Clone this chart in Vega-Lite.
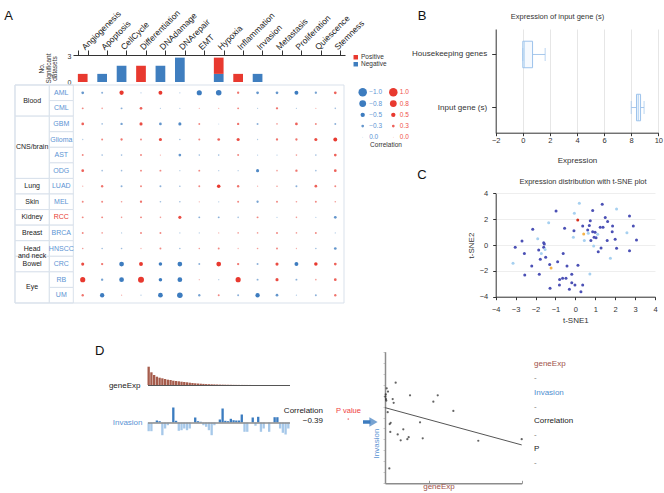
{
"$schema":"https://vega.github.io/schema/vega-lite/v6.json",
"width":664,"height":493,"padding":0,"autosize":"none","background":"white",
"config":{
 "view":{"stroke":null},
 "font":"Liberation Sans",
 "axis":{"grid":false,"labelFont":"Liberation Sans","titleFont":"Liberation Sans","labelColor":"#333333","titleColor":"#333333","domainColor":"#333333","tickColor":"#333333","titleFontWeight":"normal","labelFontSize":7.5,"titleFontSize":8,"labelOverlap":false,"labelBound":false,"labelFlush":false},
 "text":{"font":"Liberation Sans"},
 "legend":{"labelFont":"Liberation Sans","titleFont":"Liberation Sans"}
},
"datasets":{
 "tissues":[
  {"t":"Blood","first":"AML","last":"CML","labelRow":"AML"},
  {"t":"CNS/brain","first":"GBM","last":"ODG","labelRow":"Glioma"},
  {"t":"Lung","first":"LUAD","last":"LUAD"},
  {"t":"Skin","first":"MEL","last":"MEL"},
  {"t":"Kidney","first":"RCC","last":"RCC"},
  {"t":"Breast","first":"BRCA","last":"BRCA"},
  {"t":"Head\nand neck","first":"HNSCC","last":"HNSCC"},
  {"t":"Bowel","first":"CRC","last":"CRC"},
  {"t":"Eye","first":"RB","last":"UM","labelRow":"RB"}
 ],
 "cells":[{"c":"AML"},{"c":"CML"},{"c":"GBM"},{"c":"Glioma"},{"c":"AST"},{"c":"ODG"},{"c":"LUAD"},{"c":"MEL"},{"c":"RCC"},{"c":"BRCA"},{"c":"HNSCC"},{"c":"CRC"},{"c":"RB"},{"c":"UM"}],
 "heat":[
{"c":"AML","f":"Angiogenesis","r":-0.3},{"c":"AML","f":"Apoptosis","r":-0.2},{"c":"AML","f":"CellCycle","r":0.5},{"c":"AML","f":"Differentiation","r":-0.1},{"c":"AML","f":"DNAdamage","r":0.45},{"c":"AML","f":"DNArepair","r":-0.1},{"c":"AML","f":"EMT","r":-0.6},{"c":"AML","f":"Hypoxia","r":-0.65},{"c":"AML","f":"Inflammation","r":0.25},{"c":"AML","f":"Invasion","r":-0.3},{"c":"AML","f":"Metastasis","r":-0.3},{"c":"AML","f":"Proliferation","r":-0.45},{"c":"AML","f":"Quiescence","r":-0.25},{"c":"AML","f":"Stemness","r":0.3},
{"c":"CML","f":"Angiogenesis","r":0.2},{"c":"CML","f":"Apoptosis","r":0.15},{"c":"CML","f":"CellCycle","r":-0.2},{"c":"CML","f":"Differentiation","r":0.3},{"c":"CML","f":"DNAdamage","r":-0.1},{"c":"CML","f":"DNArepair","r":-0.1},{"c":"CML","f":"EMT","r":0.1},{"c":"CML","f":"Hypoxia","r":0.1},{"c":"CML","f":"Inflammation","r":0.2},{"c":"CML","f":"Invasion","r":-0.1},{"c":"CML","f":"Metastasis","r":0.25},{"c":"CML","f":"Proliferation","r":-0.1},{"c":"CML","f":"Quiescence","r":0.1},{"c":"CML","f":"Stemness","r":-0.15},
{"c":"GBM","f":"Angiogenesis","r":0.3},{"c":"GBM","f":"Apoptosis","r":-0.15},{"c":"GBM","f":"CellCycle","r":-0.25},{"c":"GBM","f":"Differentiation","r":0.35},{"c":"GBM","f":"DNAdamage","r":-0.3},{"c":"GBM","f":"DNArepair","r":-0.35},{"c":"GBM","f":"EMT","r":0.2},{"c":"GBM","f":"Hypoxia","r":-0.05},{"c":"GBM","f":"Inflammation","r":0.25},{"c":"GBM","f":"Invasion","r":-0.2},{"c":"GBM","f":"Metastasis","r":0.15},{"c":"GBM","f":"Proliferation","r":0.3},{"c":"GBM","f":"Quiescence","r":0.2},{"c":"GBM","f":"Stemness","r":-0.2},
{"c":"Glioma","f":"Angiogenesis","r":-0.1},{"c":"Glioma","f":"Apoptosis","r":0.2},{"c":"Glioma","f":"CellCycle","r":0.25},{"c":"Glioma","f":"Differentiation","r":0.2},{"c":"Glioma","f":"DNAdamage","r":0.35},{"c":"Glioma","f":"DNArepair","r":-0.15},{"c":"Glioma","f":"EMT","r":0.2},{"c":"Glioma","f":"Hypoxia","r":0.3},{"c":"Glioma","f":"Inflammation","r":0.35},{"c":"Glioma","f":"Invasion","r":-0.1},{"c":"Glioma","f":"Metastasis","r":0.25},{"c":"Glioma","f":"Proliferation","r":0.25},{"c":"Glioma","f":"Quiescence","r":0.35},{"c":"Glioma","f":"Stemness","r":0.45},
{"c":"AST","f":"Angiogenesis","r":0.2},{"c":"AST","f":"Apoptosis","r":-0.15},{"c":"AST","f":"CellCycle","r":-0.15},{"c":"AST","f":"Differentiation","r":0.2},{"c":"AST","f":"DNAdamage","r":0.1},{"c":"AST","f":"DNArepair","r":-0.3},{"c":"AST","f":"EMT","r":-0.15},{"c":"AST","f":"Hypoxia","r":-0.15},{"c":"AST","f":"Inflammation","r":0.2},{"c":"AST","f":"Invasion","r":-0.1},{"c":"AST","f":"Metastasis","r":-0.1},{"c":"AST","f":"Proliferation","r":0.15},{"c":"AST","f":"Quiescence","r":-0.15},{"c":"AST","f":"Stemness","r":0.3},
{"c":"ODG","f":"Angiogenesis","r":0.3},{"c":"ODG","f":"Apoptosis","r":-0.15},{"c":"ODG","f":"CellCycle","r":-0.15},{"c":"ODG","f":"Differentiation","r":0.2},{"c":"ODG","f":"DNAdamage","r":0.2},{"c":"ODG","f":"DNArepair","r":-0.1},{"c":"ODG","f":"EMT","r":0.2},{"c":"ODG","f":"Hypoxia","r":-0.1},{"c":"ODG","f":"Inflammation","r":-0.1},{"c":"ODG","f":"Invasion","r":-0.35},{"c":"ODG","f":"Metastasis","r":0.15},{"c":"ODG","f":"Proliferation","r":0.25},{"c":"ODG","f":"Quiescence","r":-0.15},{"c":"ODG","f":"Stemness","r":0.3},
{"c":"LUAD","f":"Angiogenesis","r":0.1},{"c":"LUAD","f":"Apoptosis","r":0.25},{"c":"LUAD","f":"CellCycle","r":-0.2},{"c":"LUAD","f":"Differentiation","r":0.2},{"c":"LUAD","f":"DNAdamage","r":-0.2},{"c":"LUAD","f":"DNArepair","r":-0.15},{"c":"LUAD","f":"EMT","r":0.2},{"c":"LUAD","f":"Hypoxia","r":0.4},{"c":"LUAD","f":"Inflammation","r":0.25},{"c":"LUAD","f":"Invasion","r":0.1},{"c":"LUAD","f":"Metastasis","r":0.15},{"c":"LUAD","f":"Proliferation","r":-0.2},{"c":"LUAD","f":"Quiescence","r":0.3},{"c":"LUAD","f":"Stemness","r":0.2},
{"c":"MEL","f":"Angiogenesis","r":0.2},{"c":"MEL","f":"Apoptosis","r":0.2},{"c":"MEL","f":"CellCycle","r":0.15},{"c":"MEL","f":"Differentiation","r":0.25},{"c":"MEL","f":"DNAdamage","r":-0.15},{"c":"MEL","f":"DNArepair","r":-0.15},{"c":"MEL","f":"EMT","r":0.1},{"c":"MEL","f":"Hypoxia","r":-0.1},{"c":"MEL","f":"Inflammation","r":0.2},{"c":"MEL","f":"Invasion","r":-0.25},{"c":"MEL","f":"Metastasis","r":0.2},{"c":"MEL","f":"Proliferation","r":0.15},{"c":"MEL","f":"Quiescence","r":0.2},{"c":"MEL","f":"Stemness","r":0.15},
{"c":"RCC","f":"Angiogenesis","r":0.2},{"c":"RCC","f":"Apoptosis","r":0.2},{"c":"RCC","f":"CellCycle","r":0.15},{"c":"RCC","f":"Differentiation","r":0.2},{"c":"RCC","f":"DNAdamage","r":0.15},{"c":"RCC","f":"DNArepair","r":0.35},{"c":"RCC","f":"EMT","r":-0.2},{"c":"RCC","f":"Hypoxia","r":-0.2},{"c":"RCC","f":"Inflammation","r":-0.15},{"c":"RCC","f":"Invasion","r":0.2},{"c":"RCC","f":"Metastasis","r":-0.1},{"c":"RCC","f":"Proliferation","r":0.15},{"c":"RCC","f":"Quiescence","r":-0.1},{"c":"RCC","f":"Stemness","r":-0.3},
{"c":"BRCA","f":"Angiogenesis","r":0.2},{"c":"BRCA","f":"Apoptosis","r":0.15},{"c":"BRCA","f":"CellCycle","r":-0.1},{"c":"BRCA","f":"Differentiation","r":0.2},{"c":"BRCA","f":"DNAdamage","r":0.2},{"c":"BRCA","f":"DNArepair","r":-0.1},{"c":"BRCA","f":"EMT","r":-0.1},{"c":"BRCA","f":"Hypoxia","r":0.1},{"c":"BRCA","f":"Inflammation","r":0.15},{"c":"BRCA","f":"Invasion","r":0.15},{"c":"BRCA","f":"Metastasis","r":0.2},{"c":"BRCA","f":"Proliferation","r":0.15},{"c":"BRCA","f":"Quiescence","r":0.2},{"c":"BRCA","f":"Stemness","r":-0.1},
{"c":"HNSCC","f":"Angiogenesis","r":0.15},{"c":"HNSCC","f":"Apoptosis","r":-0.15},{"c":"HNSCC","f":"CellCycle","r":-0.15},{"c":"HNSCC","f":"Differentiation","r":0.1},{"c":"HNSCC","f":"DNAdamage","r":0.2},{"c":"HNSCC","f":"DNArepair","r":-0.15},{"c":"HNSCC","f":"EMT","r":0.15},{"c":"HNSCC","f":"Hypoxia","r":0.2},{"c":"HNSCC","f":"Inflammation","r":0.1},{"c":"HNSCC","f":"Invasion","r":0.15},{"c":"HNSCC","f":"Metastasis","r":0.2},{"c":"HNSCC","f":"Proliferation","r":0.1},{"c":"HNSCC","f":"Quiescence","r":-0.15},{"c":"HNSCC","f":"Stemness","r":-0.3},
{"c":"CRC","f":"Angiogenesis","r":0.35},{"c":"CRC","f":"Apoptosis","r":0.25},{"c":"CRC","f":"CellCycle","r":-0.55},{"c":"CRC","f":"Differentiation","r":0.45},{"c":"CRC","f":"DNAdamage","r":-0.4},{"c":"CRC","f":"DNArepair","r":-0.55},{"c":"CRC","f":"EMT","r":-0.2},{"c":"CRC","f":"Hypoxia","r":0.55},{"c":"CRC","f":"Inflammation","r":0.25},{"c":"CRC","f":"Invasion","r":-0.2},{"c":"CRC","f":"Metastasis","r":0.35},{"c":"CRC","f":"Proliferation","r":-0.45},{"c":"CRC","f":"Quiescence","r":0.4},{"c":"CRC","f":"Stemness","r":0.3},
{"c":"RB","f":"Angiogenesis","r":0.6},{"c":"RB","f":"Apoptosis","r":-0.25},{"c":"RB","f":"CellCycle","r":-0.55},{"c":"RB","f":"Differentiation","r":0.7},{"c":"RB","f":"DNAdamage","r":-0.4},{"c":"RB","f":"DNArepair","r":-0.55},{"c":"RB","f":"EMT","r":0.1},{"c":"RB","f":"Hypoxia","r":-0.1},{"c":"RB","f":"Inflammation","r":0.6},{"c":"RB","f":"Invasion","r":-0.2},{"c":"RB","f":"Metastasis","r":0.35},{"c":"RB","f":"Proliferation","r":-0.2},{"c":"RB","f":"Quiescence","r":0.15},{"c":"RB","f":"Stemness","r":0.3},
{"c":"UM","f":"Angiogenesis","r":0.25},{"c":"UM","f":"Apoptosis","r":-0.5},{"c":"UM","f":"CellCycle","r":0.1},{"c":"UM","f":"Differentiation","r":-0.1},{"c":"UM","f":"DNAdamage","r":-0.55},{"c":"UM","f":"DNArepair","r":-0.65},{"c":"UM","f":"EMT","r":-0.25},{"c":"UM","f":"Hypoxia","r":0.2},{"c":"UM","f":"Inflammation","r":-0.2},{"c":"UM","f":"Invasion","r":-0.5},{"c":"UM","f":"Metastasis","r":-0.3},{"c":"UM","f":"Proliferation","r":-0.1},{"c":"UM","f":"Quiescence","r":-0.2},{"c":"UM","f":"Stemness","r":0.25}
 ],
 "samples":[
{"s":1,"g":18.3,"inv":-0.87},{"s":2,"g":12.7,"inv":-0.87},{"s":3,"g":10,"inv":-0.05},{"s":4,"g":8.3,"inv":0.2},{"s":5,"g":7.3,"inv":0.13},{"s":6,"g":6.7,"inv":-1.27},{"s":7,"g":6,"inv":-0.6},{"s":8,"g":5.3,"inv":-0.27},{"s":9,"g":5,"inv":0.03},{"s":10,"g":4.3,"inv":1.5},{"s":11,"g":4,"inv":0.17},{"s":12,"g":3.7,"inv":-0.83},{"s":13,"g":3.3,"inv":-0.77},{"s":14,"g":3,"inv":-0.6},{"s":15,"g":2.7,"inv":-0.77},{"s":16,"g":2.3,"inv":-0.6},{"s":17,"g":2,"inv":0},{"s":18,"g":1.7,"inv":0.5},{"s":19,"g":1.5,"inv":0.13},{"s":20,"g":1.3,"inv":0.07},{"s":21,"g":1.1,"inv":-0.27},{"s":22,"g":0.9,"inv":-0.43},{"s":23,"g":0.8,"inv":-0.77},{"s":24,"g":0.7,"inv":-1.27},{"s":25,"g":0.6,"inv":-0.27},{"s":26,"g":0.5,"inv":0},{"s":27,"g":0.4,"inv":0.3},{"s":28,"g":0.35,"inv":1.4},{"s":29,"g":0.3,"inv":0.17},{"s":30,"g":0.25,"inv":0.13},{"s":31,"g":0.2,"inv":0.37},{"s":32,"g":0.15,"inv":0.23},{"s":33,"g":0.12,"inv":0.2},{"s":34,"g":0.1,"inv":0.2},{"s":35,"g":0.08,"inv":0.8},{"s":36,"g":0.06,"inv":-0.93},{"s":37,"g":0.05,"inv":-0.93},{"s":38,"g":0.04,"inv":0},{"s":39,"g":0.03,"inv":0.5},{"s":40,"g":0.02,"inv":-0.33},{"s":41,"g":0.02,"inv":0.57},{"s":42,"g":0.01,"inv":-0.93},{"s":43,"g":0.01,"inv":-0.6},{"s":44,"g":0.01,"inv":0},{"s":45,"g":0,"inv":-0.93},{"s":46,"g":0,"inv":0},{"s":47,"g":0,"inv":0.53},{"s":48,"g":0,"inv":0.53},{"s":49,"g":0,"inv":-0.6},{"s":50,"g":0,"inv":-1.03},{"s":51,"g":0,"inv":-1.2},{"s":52,"g":0,"inv":-0.6}
 ]
},
"resolve":{"scale":{"x":"independent","y":"independent","color":"independent","size":"independent","opacity":"independent"},"axis":{"x":"independent","y":"independent"},"legend":{"color":"independent","size":"independent","opacity":"independent"}},
"layer":[
 {"layer":[
  {"data":{"name":"tissues"},"mark":{"type":"rect","fill":"white","stroke":"#d9e1eb","strokeWidth":1},
   "encoding":{"x":{"datum":0,"type":"quantitative","scale":{"domain":[0,1],"range":[15,344],"nice":false,"zero":false},"axis":null},"x2":{"datum":0.1043},
    "y":{"field":"first","type":"nominal","bandPosition":0,"scale":{"type":"band","domain":["AML","CML","GBM","Glioma","AST","ODG","LUAD","MEL","RCC","BRCA","HNSCC","CRC","RB","UM"],"range":[85,303],"paddingInner":0,"paddingOuter":0},"axis":null},"y2":{"field":"last","bandPosition":1}}},
  {"data":{"name":"cells"},"mark":{"type":"rect","fill":"white","stroke":"#d9e1eb","strokeWidth":1},
   "encoding":{"x":{"datum":0.1043,"type":"quantitative","scale":{"domain":[0,1],"range":[15,344],"nice":false,"zero":false},"axis":null},"x2":{"datum":0.1772},
    "y":{"field":"c","type":"nominal","scale":{"type":"band","domain":["AML","CML","GBM","Glioma","AST","ODG","LUAD","MEL","RCC","BRCA","HNSCC","CRC","RB","UM"],"range":[85,303],"paddingInner":0,"paddingOuter":0},"axis":null}}},
  {"data":{"values":[{"k":"frame"}]},"mark":{"type":"rect","filled":false,"stroke":"#d9e1eb","strokeWidth":1},
   "encoding":{"x":{"datum":0,"type":"quantitative","scale":{"domain":[0,1],"range":[15,344],"nice":false,"zero":false},"axis":null},"x2":{"datum":1},
    "y":{"datum":"AML","type":"nominal","bandPosition":0,"scale":{"type":"band","domain":["AML","CML","GBM","Glioma","AST","ODG","LUAD","MEL","RCC","BRCA","HNSCC","CRC","RB","UM"],"range":[85,303],"paddingInner":0,"paddingOuter":0},"axis":null},"y2":{"datum":"UM","bandPosition":1}}},
  {"data":{"name":"cells"},"mark":{"type":"text","fontSize":7,"align":"center","baseline":"middle"},
   "encoding":{"x":{"datum":0.1407,"type":"quantitative","scale":{"domain":[0,1],"range":[15,344],"nice":false,"zero":false},"axis":null},
    "y":{"field":"c","type":"nominal","scale":{"type":"band","domain":["AML","CML","GBM","Glioma","AST","ODG","LUAD","MEL","RCC","BRCA","HNSCC","CRC","RB","UM"],"range":[85,303],"paddingInner":0,"paddingOuter":0},"axis":null},
    "text":{"field":"c"},
    "color":{"condition":{"test":"datum.c==='RCC'","value":"#e8392f"},"value":"#5b93d3"}}},
  {"data":{"name":"tissues"},"transform":[{"filter":"datum.labelRow != null"}],"mark":{"type":"text","fontSize":7,"align":"center","baseline":"middle","color":"#222222"},
   "encoding":{"x":{"datum":0.0521,"type":"quantitative","scale":{"domain":[0,1],"range":[15,344],"nice":false,"zero":false},"axis":null},
    "y":{"field":"labelRow","type":"nominal","bandPosition":1,"scale":{"type":"band","domain":["AML","CML","GBM","Glioma","AST","ODG","LUAD","MEL","RCC","BRCA","HNSCC","CRC","RB","UM"],"range":[85,303],"paddingInner":0,"paddingOuter":0},"axis":null},
    "text":{"field":"t"}}},
  {"data":{"name":"tissues"},"transform":[{"filter":"datum.labelRow == null"}],"mark":{"type":"text","fontSize":7,"align":"center","baseline":"middle","color":"#222222","lineBreak":"\n","lineHeight":7},
   "encoding":{"x":{"datum":0.0521,"type":"quantitative","scale":{"domain":[0,1],"range":[15,344],"nice":false,"zero":false},"axis":null},
    "y":{"field":"first","type":"nominal","scale":{"type":"band","domain":["AML","CML","GBM","Glioma","AST","ODG","LUAD","MEL","RCC","BRCA","HNSCC","CRC","RB","UM"],"range":[85,303],"paddingInner":0,"paddingOuter":0},"axis":null},
    "text":{"field":"t"}}}
 ]},
 {"data":{"name":"heat"},"mark":{"type":"point","filled":true,"strokeWidth":0},
  "encoding":{
   "x":{"field":"f","type":"nominal","scale":{"type":"band","domain":["Angiogenesis","Apoptosis","CellCycle","Differentiation","DNAdamage","DNArepair","EMT","Hypoxia","Inflammation","Invasion","Metastasis","Proliferation","Quiescence","Stemness"],"range":[73,345],"paddingInner":0,"paddingOuter":0},"axis":null},
   "y":{"field":"c","type":"nominal","scale":{"type":"band","domain":["AML","CML","GBM","Glioma","AST","ODG","LUAD","MEL","RCC","BRCA","HNSCC","CRC","RB","UM"],"range":[85,303],"paddingInner":0,"paddingOuter":0},"axis":null},
   "size":{"field":"r","type":"quantitative","scale":{"type":"pow","exponent":2,"domain":[-1,0,1],"range":[72,1,72],"zero":false,"nice":false},"legend":null},
   "color":{"field":"r","type":"quantitative","scale":{"type":"threshold","domain":[0],"range":["#3d7cbf","#e8392f"]},"legend":null},
   "opacity":{"field":"r","type":"quantitative","scale":{"domain":[-0.4,0,0.4],"range":[1,0.2,1],"clamp":true,"zero":false,"nice":false},"legend":null}
  }},
 {"data":{"values":[
   {"f":"Angiogenesis","sign":"Positive","n":1},{"f":"Apoptosis","sign":"Negative","n":1},{"f":"CellCycle","sign":"Negative","n":2},{"f":"Differentiation","sign":"Positive","n":2},{"f":"DNAdamage","sign":"Negative","n":2},{"f":"DNArepair","sign":"Negative","n":3},{"f":"Hypoxia","sign":"Negative","n":1},{"f":"Hypoxia","sign":"Positive","n":2},{"f":"Inflammation","sign":"Positive","n":1},{"f":"Invasion","sign":"Negative","n":1}]},
  "mark":{"type":"bar"},
  "encoding":{
   "x":{"field":"f","type":"nominal","scale":{"type":"band","domain":["Angiogenesis","Apoptosis","CellCycle","Differentiation","DNAdamage","DNArepair","EMT","Hypoxia","Inflammation","Invasion","Metastasis","Proliferation","Quiescence","Stemness"],"range":[73,345],"paddingInner":0.5,"paddingOuter":0.25},
        "axis":{"orient":"top","offset":-55,"title":null,"labelAngle":-45,"labelAlign":"left","labelBaseline":"middle","labelPadding":2,"labelFontSize":8.5,"labelColor":"#222222","tickBand":"extent","tickSize":5,"domainColor":"#333333","tickColor":"#333333"}},
   "y":{"field":"n","type":"quantitative","stack":"zero","scale":{"domain":[0,3.2],"range":[82,56],"nice":false},
        "axis":{"orient":"left","offset":-72,"values":[0,3.2],"format":"~g","domain":false,"ticks":false,"labelFontSize":7,"labelPadding":1,"labelColor":"#333333","title":["No.","Significant","datasets"],"titleFontSize":6.5,"titleLineHeight":6.5,"titleAngle":-90,"titleAlign":"center","titleBaseline":"middle","titleX":-30.5,"titleY":68}},
   "color":{"field":"sign","type":"nominal","scale":{"domain":["Positive","Negative"],"range":["#e8392f","#3f7ebf"]},
        "legend":{"orient":"none","legendX":352.5,"legendY":54,"title":null,"symbolType":"square","symbolSize":20,"symbolStrokeWidth":0,"labelFontSize":6.5,"labelOffset":2,"rowPadding":0,"labelColor":"#333333","padding":0}},
   "order":{"field":"sign","sort":"ascending"}
  }},
 {"data":{"values":[
   {"side":"neg","lv":"1.0","r":-1,"lab":"−1.0"},{"side":"neg","lv":"0.8","r":-0.8,"lab":"−0.8"},{"side":"neg","lv":"0.5","r":-0.5,"lab":"−0.5"},{"side":"neg","lv":"0.3","r":-0.3,"lab":"−0.3"},{"side":"neg","lv":"0.0","r":0,"lab":"0.0"},
   {"side":"pos","lv":"1.0","r":1,"lab":"1.0"},{"side":"pos","lv":"0.8","r":0.8,"lab":"0.8"},{"side":"pos","lv":"0.5","r":0.5,"lab":"0.5"},{"side":"pos","lv":"0.3","r":0.3,"lab":"0.3"},{"side":"pos","lv":"0.0","r":0,"lab":"0.0"}]},
  "resolve":{"scale":{"color":"independent"}},
  "layer":[
   {"mark":{"type":"point","filled":true,"strokeWidth":0},
    "encoding":{
     "x":{"field":"side","type":"nominal","scale":{"type":"point","domain":["neg","pos"],"range":[362.7,393.3],"padding":0},"axis":null},
     "y":{"field":"lv","type":"nominal","scale":{"type":"point","domain":["1.0","0.8","0.5","0.3","0.0"],"range":[92.3,137.3],"padding":0},"axis":null},
     "size":{"field":"r","type":"quantitative","scale":{"type":"pow","exponent":2,"domain":[-1,0,1],"range":[72,1,72],"zero":false,"nice":false},"legend":null},
     "color":{"field":"side","type":"nominal","scale":{"domain":["neg","pos"],"range":["#3d7cbf","#e8392f"]},"legend":null},
     "opacity":{"field":"r","type":"quantitative","scale":{"domain":[-0.4,0,0.4],"range":[1,0.2,1],"clamp":true,"zero":false,"nice":false},"legend":null}
    }},
   {"mark":{"type":"text","align":"left","baseline":"middle","dx":6.5,"fontSize":6.5},
    "encoding":{
     "x":{"field":"side","type":"nominal","scale":{"type":"point","domain":["neg","pos"],"range":[362.7,393.3],"padding":0},"axis":null},
     "y":{"field":"lv","type":"nominal","scale":{"type":"point","domain":["1.0","0.8","0.5","0.3","0.0"],"range":[92.3,137.3],"padding":0},"axis":null},
     "text":{"field":"lab"},
     "color":{"field":"side","type":"nominal","scale":{"domain":["neg","pos"],"range":["#5b93d3","#f0504a"]},"legend":null}
    }}
  ]},
 {"data":{"values":[
   {"g":"Housekeeping genes","lo":0,"q1":0,"med":0.1,"q3":0.72,"hi":1.65},
   {"g":"Input gene (s)","lo":8.0,"q1":8.39,"med":8.52,"q3":8.69,"hi":8.95}]},
  "resolve":{"axis":{"x":"independent"}},
  "layer":[
   {"mark":{"type":"rule","color":"#a7c8ec","strokeWidth":1},
    "encoding":{
     "x":{"field":"lo","type":"quantitative","scale":{"domain":[-2,10],"range":[495.7,658.3],"nice":false},
          "axis":{"orient":"bottom","offset":-360.3,"values":[-2,0,2,4,6,8,10],"title":"Expression","titleFontSize":8,"titlePadding":12,"labelFontSize":7.5,"tickSize":3,"labelPadding":1}},
     "x2":{"field":"hi"},
     "y":{"field":"g","type":"nominal","scale":{"type":"band","domain":["Housekeeping genes","Input gene (s)"],"range":[29,133],"paddingInner":0.5,"paddingOuter":0.23},
          "axis":{"orient":"left","offset":-495.7,"title":null,"labelFontSize":8,"tickSize":4,"labelPadding":5}}
    }},
   {"mark":{"type":"bar","fill":"#f5f9fe","stroke":"#9dc3ec","strokeWidth":1},
    "encoding":{
     "x":{"field":"q1","type":"quantitative","scale":{"domain":[-2,10],"range":[495.7,658.3],"nice":false},
          "axis":{"orient":"top","grid":true,"gridColor":"#e6e6e6","values":[0,2,4,6,8,10],"domain":false,"ticks":false,"labels":false,"title":null}},
     "x2":{"field":"q3"},
     "y":{"field":"g","type":"nominal"}
    }},
   {"mark":{"type":"tick","orient":"vertical","color":"#8dbae8","thickness":1,"size":26},
    "encoding":{"x":{"field":"med","type":"quantitative","axis":null},"y":{"field":"g","type":"nominal"}}},
   {"mark":{"type":"tick","orient":"vertical","color":"#9dc3ec","thickness":1,"size":13},
    "encoding":{"x":{"field":"hi","type":"quantitative","axis":null},"y":{"field":"g","type":"nominal"}}},
   {"mark":{"type":"tick","orient":"vertical","color":"#9dc3ec","thickness":1,"size":13},
    "encoding":{"x":{"field":"lo","type":"quantitative","axis":null},"y":{"field":"g","type":"nominal"}}}
  ]},
 {"data":{"values":[
  {"x":-3.02,"y":-0.18,"lv":"d"},{"x":-2.68,"y":0.31,"lv":"d"},{"x":-2.56,"y":-0.65,"lv":"d"},{"x":-2.14,"y":1.21,"lv":"d"},{"x":-1.89,"y":0.49,"lv":"l"},{"x":-2.19,"y":-1.63,"lv":"d"},{"x":-2.54,"y":-2.32,"lv":"d"},{"x":-3.13,"y":-1.42,"lv":"l"},{"x":-1.84,"y":-0.39,"lv":"d"},{"x":-1.76,"y":-1.11,"lv":"d"},
  {"x":-1.81,"y":-2.27,"lv":"d"},{"x":-1.59,"y":0.18,"lv":"d"},{"x":-1.56,"y":0.08,"lv":"d"},{"x":-1.59,"y":-0.18,"lv":"d"},{"x":-1.52,"y":-0.34,"lv":"l"},{"x":-1.71,"y":-0.65,"lv":"l"},{"x":-1.49,"y":-0.95,"lv":"d"},{"x":-1.34,"y":1.73,"lv":"l"},{"x":-1.29,"y":-1.5,"lv":"d"},{"x":-1.22,"y":-1.78,"lv":"o"},
  {"x":-1.27,"y":-3.35,"lv":"d"},{"x":-0.89,"y":-1.29,"lv":"d"},{"x":-0.97,"y":2.63,"lv":"d"},{"x":-0.79,"y":-2.66,"lv":"d"},{"x":-0.8,"y":-3.1,"lv":"d"},{"x":-0.61,"y":-0.65,"lv":"d"},{"x":-0.64,"y":-2.58,"lv":"d"},{"x":-0.54,"y":1.29,"lv":"d"},{"x":-0.42,"y":-1.63,"lv":"d"},{"x":-0.47,"y":-2.58,"lv":"d"},
  {"x":-0.3,"y":-3.43,"lv":"d"},{"x":-0.18,"y":-2.27,"lv":"d"},{"x":-0.18,"y":-2.92,"lv":"d"},{"x":-0.05,"y":2.45,"lv":"l"},{"x":-0.07,"y":1.11,"lv":"d"},{"x":-0.1,"y":0.59,"lv":"l"},{"x":-0.02,"y":-3.1,"lv":"d"},{"x":0.13,"y":-1.57,"lv":"d"},{"x":0.12,"y":1.94,"lv":"r"},{"x":0.2,"y":3.23,"lv":"l"},
  {"x":0.37,"y":1.47,"lv":"d"},{"x":0.42,"y":0.85,"lv":"o"},{"x":0.45,"y":0.34,"lv":"l"},{"x":0.28,"y":-3.61,"lv":"d"},{"x":0.37,"y":-3.1,"lv":"d"},{"x":0.62,"y":1.16,"lv":"d"},{"x":0.7,"y":1.5,"lv":"d"},{"x":0.75,"y":1.88,"lv":"d"},{"x":0.65,"y":0.9,"lv":"l"},{"x":0.78,"y":0.34,"lv":"d"},
  {"x":0.73,"y":-2.25,"lv":"l"},{"x":0.87,"y":2.66,"lv":"d"},{"x":0.87,"y":1.03,"lv":"d"},{"x":0.99,"y":0.98,"lv":"d"},{"x":0.94,"y":0.59,"lv":"d"},{"x":1.04,"y":0.57,"lv":"d"},{"x":0.92,"y":-0.08,"lv":"l"},{"x":1.12,"y":0.83,"lv":"l"},{"x":1.15,"y":-0.52,"lv":"d"},{"x":1.25,"y":1.37,"lv":"d"},
  {"x":1.29,"y":-0.23,"lv":"d"},{"x":1.35,"y":3.15,"lv":"d"},{"x":1.5,"y":2.12,"lv":"d"},{"x":1.62,"y":1.81,"lv":"d"},{"x":1.6,"y":0.34,"lv":"d"},{"x":1.76,"y":-1.03,"lv":"l"},{"x":1.87,"y":1.47,"lv":"d"},{"x":1.85,"y":1.03,"lv":"d"},{"x":2.0,"y":0.44,"lv":"d"},{"x":2.07,"y":2.79,"lv":"l"},
  {"x":2.07,"y":-0.26,"lv":"d"},{"x":2.59,"y":0.95,"lv":"l"},{"x":2.72,"y":2.25,"lv":"d"},{"x":2.72,"y":-0.44,"lv":"d"},{"x":2.91,"y":1.47,"lv":"d"},{"x":3.07,"y":0.39,"lv":"d"},{"x":1.39,"y":1.37,"lv":"d"}]},
  "mark":{"type":"point","filled":true,"size":9,"strokeWidth":0,"opacity":1},
  "encoding":{
   "x":{"field":"x","type":"quantitative","scale":{"domain":[-4,4],"range":[495.7,655],"nice":false},
        "axis":{"orient":"bottom","offset":-196.3,"values":[-4,-3,-2,-1,0,1,2,3,4],"title":"t-SNE1","titleFontSize":8,"titlePadding":3,"labelFontSize":7.5,"tickSize":3,"labelPadding":6}},
   "y":{"field":"y","type":"quantitative","scale":{"domain":[-4,4],"range":[296.7,193.3],"nice":false},
        "axis":{"orient":"left","offset":-495.7,"values":[-4,-2,0,2,4],"grid":true,"gridColor":"#eeeeee","title":"t-SNE2","titleFontSize":8,"titlePadding":4,"labelFontSize":7.5,"tickSize":3,"labelPadding":5}},
   "color":{"field":"lv","type":"nominal","scale":{"domain":["d","l","r","o"],"range":["#4b50b5","#a6d0f0","#d7301f","#f6b44a"]},"legend":null}
  }},
 {"data":{"name":"samples"},
  "resolve":{"scale":{"y":"independent","color":"independent"},"axis":{"x":"independent","y":"independent"}},
  "layer":[
   {"mark":{"type":"bar","color":"#a65c4c"},
    "encoding":{
     "x":{"field":"s","type":"ordinal","scale":{"type":"band","range":[147.5,289.5],"paddingInner":0.15,"paddingOuter":0},
          "axis":{"orient":"bottom","offset":-108,"domain":true,"domainColor":"#555555","ticks":false,"labels":false,"title":null}},
     "y":{"field":"g","type":"quantitative","scale":{"domain":[0,20],"range":[385,365],"nice":false},
          "axis":{"orient":"left","offset":0,"domain":false,"ticks":false,"labels":false,"title":"geneExp","titleAngle":0,"titleAlign":"right","titleBaseline":"middle","titleX":140,"titleY":385,"titleColor":"#222222","titleFontSize":8}}
    }},
   {"mark":{"type":"bar"},
    "encoding":{
     "x":{"field":"s","type":"ordinal",
          "axis":{"orient":"bottom","offset":-70.5,"domain":true,"domainColor":"#8c8c8c","domainWidth":1.5,"ticks":false,"labels":false,"title":null,"zindex":1}},
     "y":{"field":"inv","type":"quantitative","scale":{"domain":[-2,2],"range":[442.5,402.5],"nice":false},
          "axis":{"orient":"left","offset":0,"domain":false,"ticks":false,"labels":false,"title":"Invasion","titleAngle":0,"titleAlign":"right","titleBaseline":"middle","titleX":142,"titleY":422.5,"titleColor":"#5b93d3","titleFontSize":8}},
     "color":{"field":"inv","type":"quantitative","scale":{"type":"threshold","domain":[0],"range":["#a6c8e9","#3b7cc0"]},"legend":null}
    }}
  ]},
 {"layer":[
   {"data":{"values":[{"g":0.23,"inv":1.33},{"g":0.4,"inv":1.18},{"g":1.43,"inv":1.59},{"g":0.13,"inv":0.84},{"g":0.17,"inv":0.77},{"g":1.03,"inv":0.84},{"g":1.16,"inv":0.67},{"g":3.35,"inv":1.01},{"g":6.47,"inv":0.72},{"g":7.06,"inv":1.01},{"g":9.15,"inv":0.3},{"g":0.36,"inv":0.24},{"g":0.76,"inv":-0.24},{"g":0.63,"inv":-0.3},{"g":4.69,"inv":-0.22},{"g":0.71,"inv":-0.66},{"g":2.45,"inv":-0.54},{"g":1.7,"inv":-0.77},{"g":2.1,"inv":-1.04},{"g":2.99,"inv":-0.99},{"g":3.17,"inv":-0.9},{"g":5.05,"inv":-0.95},{"g":12.49,"inv":-1.06},{"g":18.3,"inv":-0.99},{"g":0.58,"inv":-2.32},{"g":0.05,"inv":0.95},{"g":0.1,"inv":1.05}]},
    "mark":{"type":"point","filled":true,"size":5,"color":"#222222","strokeWidth":0},
    "encoding":{
     "x":{"field":"g","type":"quantitative","scale":{"domain":[0,18.3],"range":[385,521.7],"nice":false},
          "axis":{"orient":"bottom","offset":-9.7,"domainColor":"#8c8c8c","domainWidth":1.5,"values":[5.9,18.3],"tickSize":-3,"tickColor":"#999999","labels":false,"title":"geneExp","titleColor":"#a0524a","titleFontSize":8,"titleX":438.5,"titleY":3.5,"titleBaseline":"middle","titleAlign":"center"}},
     "y":{"field":"inv","type":"quantitative","scale":{"domain":[-3,3],"range":[483.3,351.7],"nice":false},
          "axis":{"orient":"left","offset":-385,"domainColor":"#8c8c8c","domainWidth":1.5,"labels":false,"tickCount":12,"tickSize":2,"tickColor":"#cccccc","title":"Invasion","titleColor":"#5b93d3","titleFontSize":8,"titleX":-8.3,"titleY":443,"titleAngle":-90,"titleBaseline":"middle","titleAlign":"center"}}
    }},
   {"data":{"values":[{"g":0,"inv":0.45},{"g":18.3,"inv":-1.25}]},
    "mark":{"type":"line","color":"#555555","strokeWidth":1},
    "encoding":{"x":{"field":"g","type":"quantitative"},"y":{"field":"inv","type":"quantitative"}}}
 ]},
 {"data":{"values":[{"k":1,"t":"geneExp","role":"gene"},{"k":2,"t":"-","role":"sep"},{"k":3,"t":"Invasion","role":"inv"},{"k":4,"t":"-","role":"sep"},{"k":5,"t":"Correlation","role":"corr"},{"k":6,"t":"-","role":"sep"},{"k":7,"t":"P","role":"corr"},{"k":8,"t":"-","role":"sep"}]},
  "mark":{"type":"text","align":"left","baseline":"middle","fontSize":8},
  "encoding":{
   "x":{"datum":0,"type":"quantitative","scale":{"domain":[0,1],"range":[534,664],"nice":false,"zero":false},"axis":null},
   "y":{"field":"k","type":"ordinal","scale":{"type":"point","range":[364.3,463.3],"padding":0},"axis":null},
   "text":{"field":"t"},
   "color":{"field":"role","type":"nominal","scale":{"domain":["gene","inv","corr","sep"],"range":["#a0524a","#4f8fd0","#222222","#777777"]},"legend":null}
  }},
 {"layer":[
   {"data":{"values":[{"t":"A"}]},"mark":{"type":"text","fontSize":13,"align":"center","baseline":"middle","color":"#111111"},
    "encoding":{"x":{"datum":8.5,"type":"quantitative","scale":{"domain":[0,664],"range":[0,664],"nice":false,"zero":false},"axis":null},"y":{"datum":15.5,"type":"quantitative","scale":{"domain":[0,493],"range":[0,493],"nice":false,"zero":false},"axis":null},"text":{"field":"t"}}},
   {"data":{"values":[{"t":"B"}]},"mark":{"type":"text","fontSize":13,"align":"center","baseline":"middle","color":"#111111"},
    "encoding":{"x":{"datum":422,"type":"quantitative"},"y":{"datum":15.5,"type":"quantitative"},"text":{"field":"t"}}},
   {"data":{"values":[{"t":"C"}]},"mark":{"type":"text","fontSize":13,"align":"center","baseline":"middle","color":"#111111"},
    "encoding":{"x":{"datum":422,"type":"quantitative"},"y":{"datum":174.5,"type":"quantitative"},"text":{"field":"t"}}},
   {"data":{"values":[{"t":"D"}]},"mark":{"type":"text","fontSize":13,"align":"center","baseline":"middle","color":"#111111"},
    "encoding":{"x":{"datum":99.7,"type":"quantitative"},"y":{"datum":351,"type":"quantitative"},"text":{"field":"t"}}},
   {"data":{"values":[{"t":"Expression of input gene (s)"}]},"mark":{"type":"text","fontSize":7.5,"align":"center","baseline":"middle","color":"#333333"},
    "encoding":{"x":{"datum":557.5,"type":"quantitative"},"y":{"datum":16.7,"type":"quantitative"},"text":{"field":"t"}}},
   {"data":{"values":[{"t":"Expression distribution with t-SNE plot"}]},"mark":{"type":"text","fontSize":7.5,"align":"center","baseline":"middle","color":"#333333"},
    "encoding":{"x":{"datum":583,"type":"quantitative"},"y":{"datum":181.7,"type":"quantitative"},"text":{"field":"t"}}},
   {"data":{"values":[{"t":"Correlation"}]},"mark":{"type":"text","fontSize":6.5,"align":"center","baseline":"middle","color":"#333333"},
    "encoding":{"x":{"datum":386,"type":"quantitative"},"y":{"datum":144.5,"type":"quantitative"},"text":{"field":"t"}}},
   {"data":{"values":[{"t":"Correlation"}]},"mark":{"type":"text","fontSize":8,"align":"right","baseline":"middle","color":"#222222"},
    "encoding":{"x":{"datum":323,"type":"quantitative"},"y":{"datum":411,"type":"quantitative"},"text":{"field":"t"}}},
   {"data":{"values":[{"t":"−0.39"}]},"mark":{"type":"text","fontSize":8,"align":"right","baseline":"middle","color":"#222222"},
    "encoding":{"x":{"datum":323,"type":"quantitative"},"y":{"datum":421,"type":"quantitative"},"text":{"field":"t"}}},
   {"data":{"values":[{"t":"P value"}]},"mark":{"type":"text","fontSize":7.5,"align":"center","baseline":"middle","color":"#f04040"},
    "encoding":{"x":{"datum":348.5,"type":"quantitative"},"y":{"datum":410.7,"type":"quantitative"},"text":{"field":"t"}}},
   {"data":{"values":[{"t":"dot"}]},"mark":{"type":"point","filled":true,"size":3,"color":"#f04040","strokeWidth":0},
    "encoding":{"x":{"datum":348.3,"type":"quantitative"},"y":{"datum":419,"type":"quantitative"}}},
   {"data":{"values":[{"t":"arrow"}]},"mark":{"type":"rule","color":"#3d7cbf","strokeWidth":3.5},
    "encoding":{"x":{"datum":363,"type":"quantitative"},"x2":{"datum":370.5},"y":{"datum":422,"type":"quantitative"}}},
   {"data":{"values":[{"t":"arrowhead"}]},"mark":{"type":"point","shape":"triangle-right","filled":true,"size":90,"color":"#3d7cbf","strokeWidth":0},
    "encoding":{"x":{"datum":373.5,"type":"quantitative"},"y":{"datum":422,"type":"quantitative"}}}
 ]}
]
}
